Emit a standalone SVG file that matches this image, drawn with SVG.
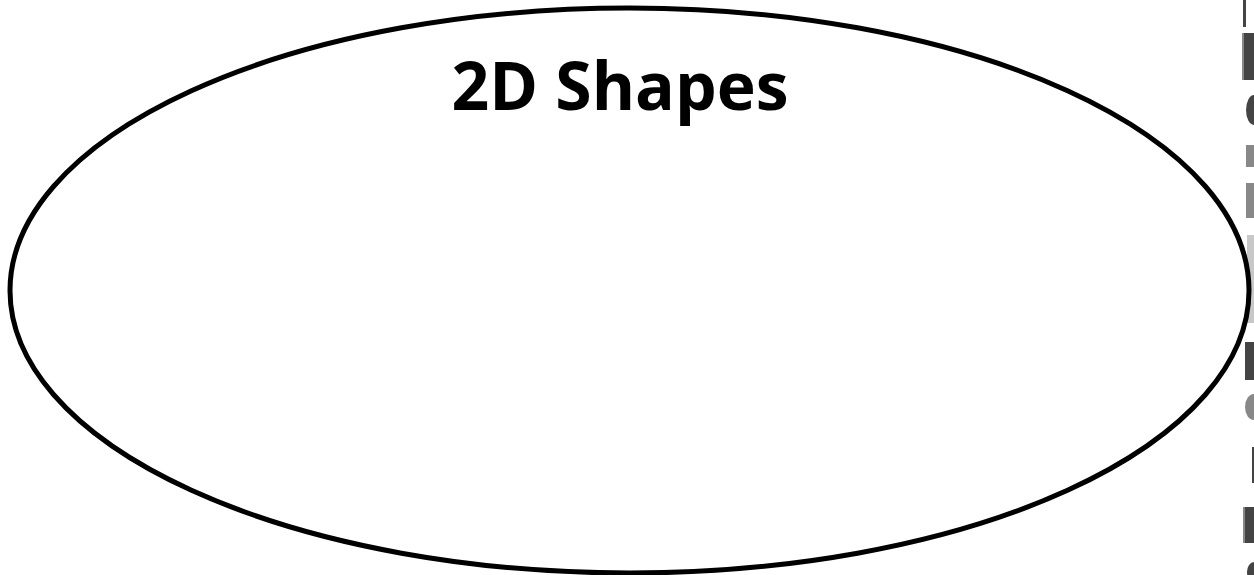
<svg xmlns="http://www.w3.org/2000/svg" width="1254" height="575" viewBox="0 0 1254 575">
<style>
.frame{fill:none;stroke:#000;stroke-width:5}
.title{font-family:"Open Sans","Liberation Sans",sans-serif;font-weight:bold;font-size:66px;fill:#000}
.dk{fill:#444}
.md{fill:#888}
.lt{fill:#c8c8c8}
</style>
<rect width="1254" height="575" fill="#fff"/>
<g id="edge-scraps">
<rect class="dk" x="1243" y="0" width="3" height="27"/>
<rect class="md" x="1242" y="33" width="2" height="47"/>
<rect class="dk" x="1244" y="33" width="10" height="47"/>
<ellipse class="dk" cx="1254" cy="110" rx="8" ry="15"/>
<rect class="md" x="1246" y="145" width="8" height="22"/>
<rect class="md" x="1246" y="183" width="8" height="35"/>
<rect class="lt" x="1247" y="235" width="7" height="88"/>
<rect class="dk" x="1245" y="342" width="9" height="38"/>
<ellipse class="md" cx="1254" cy="407" rx="9" ry="13"/>
<rect class="dk" x="1252" y="447" width="2" height="36"/>
<rect class="md" x="1243" y="507" width="2" height="36"/>
<rect class="dk" x="1245" y="507" width="9" height="36"/>
<ellipse class="dk" cx="1254" cy="572" rx="7" ry="10"/>
</g>
<g id="venn-circle">
<ellipse class="frame" cx="629.5" cy="290.5" rx="619.5" ry="282.5"/>
<text class="title" x="620" y="110" text-anchor="middle">2D Shapes</text>
</g>
</svg>
